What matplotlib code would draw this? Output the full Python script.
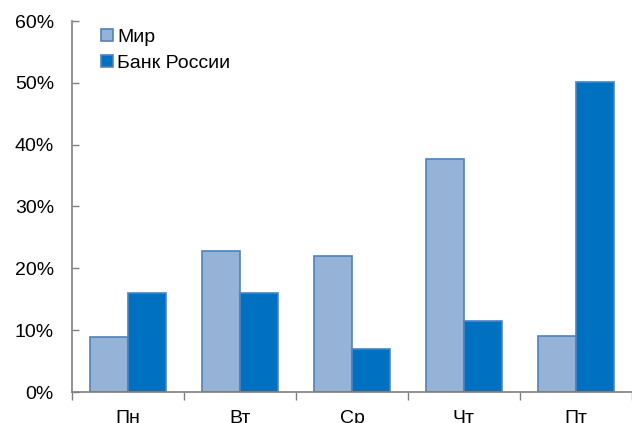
import numpy as np
import matplotlib.pyplot as plt
from matplotlib.ticker import PercentFormatter

plt.rcParams['font.family'] = ['Liberation Sans', 'DejaVu Sans']

days = ['Пн', 'Вт', 'Ср', 'Чт', 'Пт']
mir = [8.9, 22.8, 22.0, 37.7, 9.1]
bank = [16.0, 16.0, 7.0, 11.5, 50.1]
names = ['Мир', 'Банк России']

x = np.arange(len(days))
width = 0.335

fig = plt.figure(figsize=(6.32, 4.23), dpi=100)
ax = fig.add_axes([72 / 632, 31 / 423, 560 / 632, 371 / 423])

ax.bar(x - width / 2, mir, width, color='#95b3d7', edgecolor='#4f81bd', linewidth=1.2, label=names[0])
ax.bar(x + width / 2, bank, width, color='#0070c0', edgecolor='#4f81bd', linewidth=1.2, label=names[1])

ax.set_xlim(-0.5, 4.5)
ax.set_ylim(0, 60)
ax.set_yticks(np.arange(0, 61, 10))
ax.yaxis.set_major_formatter(PercentFormatter(decimals=0))

ax.set_xticks(np.arange(-0.5, 4.6, 1))
ax.set_xticklabels([])
ax.set_xticks(x, minor=True)
ax.set_xticklabels(days, minor=True)

ax.tick_params(axis='y', direction='in', length=5, width=1, color='#808080', pad=13, labelsize=14)
ax.tick_params(axis='x', which='major', direction='out', length=6, width=1, color='#808080')
ax.tick_params(axis='x', which='minor', length=0, pad=13, labelsize=14)

for s in ['top', 'right']:
    ax.spines[s].set_visible(False)
for s in ['left', 'bottom']:
    ax.spines[s].set_color('#808080')
    ax.spines[s].set_linewidth(1.2)

ax.legend(loc='upper left', bbox_to_anchor=(0.035, 1.005), frameon=False, fontsize=14,
          handlelength=0.58, handleheight=0.58, handletextpad=0.25, labelspacing=0.45,
          borderaxespad=0.1)

fig.savefig('out.png', dpi=100)
